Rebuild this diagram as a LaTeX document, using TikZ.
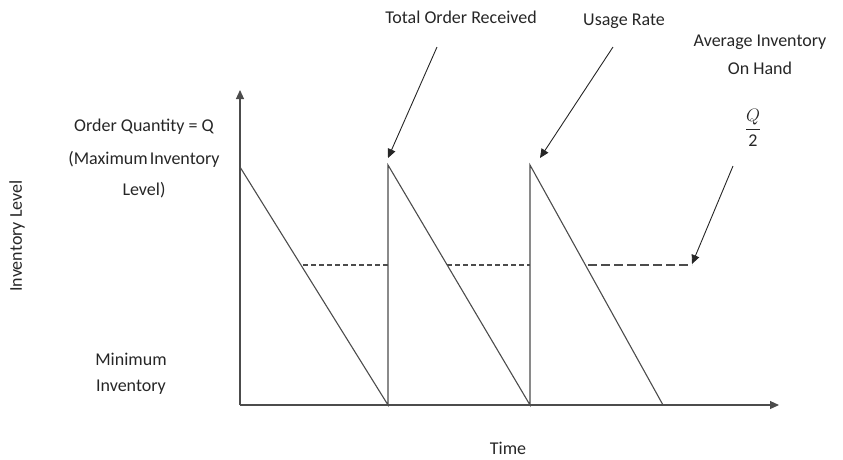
\documentclass[tikz,border=0pt]{standalone}
\usepackage{fix-cm}
\usepackage{fontspec}
\setmainfont{Carlito}
\usetikzlibrary{arrows.meta}
\begin{document}
\begin{tikzpicture}[x=1pt,y=-1pt,
  lbl/.style={inner sep=0pt,font=\fontsize{18}{21}\selectfont,text=black!85},
  ln/.style={draw=black!70,line width=1.1pt},
  tip/.style={draw=black!85,line width=0.9pt,-{Triangle[length=9pt,width=8pt]}},
  dsh/.style={draw=black!70,line width=1.1pt,dash pattern=on 5pt off 3pt},
  ldsh/.style={draw=black!70,line width=1.1pt,dash pattern=on 9pt off 4pt}]
\useasboundingbox (0,0) rectangle (843,459);
% axes
\coordinate (O) at (240,405);
\coordinate (ytop) at (240,90);
\coordinate (xend) at (779,405);
\draw[ln,-{Triangle[length=9pt,width=8pt]}] (O) -- (ytop);
\draw[ln,-{Triangle[length=9pt,width=8pt]}] (O) -- (xend);
% sawtooth
\coordinate (p0) at (240,167);
\coordinate (b1) at (388,405);
\coordinate (t1) at (388,165);
\coordinate (b2) at (530,405);
\coordinate (t2) at (530,165);
\coordinate (b3) at (663,405);
\draw[ln] (p0) -- (b1) -- (t1) -- (b2) -- (t2) -- (b3);
% average dashed
\coordinate (d1a) at (303,265); \coordinate (d1b) at (388,265);
\coordinate (d2a) at (447,265); \coordinate (d2b) at (530,265);
\coordinate (d3a) at (588,265); \coordinate (d3b) at (692,265);
\draw[dsh] (d1a) -- (d1b);
\draw[dsh] (d2a) -- (d2b);
\draw[ldsh] (d3a) -- (d3b);
% labels
\node[lbl] (tor) at (461,17) {Total Order Received};
\node[lbl] (ur) at (624,21) {Usage Rate};
\node[lbl] (avg1) at (760,42) {Average Inventory};
\node[lbl] (avg2) at (760,68) {On Hand};
\node[lbl] (q2) at (753,128) {$\displaystyle\frac{Q}{\mbox{2}}$};
\node[lbl] (oq) at (144,127) {Order Quantity = Q};
\node[lbl] (mi) at (144,159) {(Maximum\hspace{-2pt} Inventory};
\node[lbl] (lv) at (144,190) {Level)};
\node[lbl] (mn1) at (131,359) {Minimum};
\node[lbl] (mn2) at (131,387) {Inventory};
\node[lbl] (tm) at (508,448) {Time};
\node[lbl,rotate=90] (il) at (17,236) {Inventory Level};
% arrows
\coordinate (a1s) at (437,47); \coordinate (a1e) at (388,158);
\coordinate (a2s) at (613,47); \coordinate (a2e) at (540,158);
\coordinate (a3s) at (733,166); \coordinate (a3e) at (692,264);
\draw[tip] (a1s) -- (a1e);
\draw[tip] (a2s) -- (a2e);
\draw[tip] (a3s) -- (a3e);
\end{tikzpicture}
\end{document}
